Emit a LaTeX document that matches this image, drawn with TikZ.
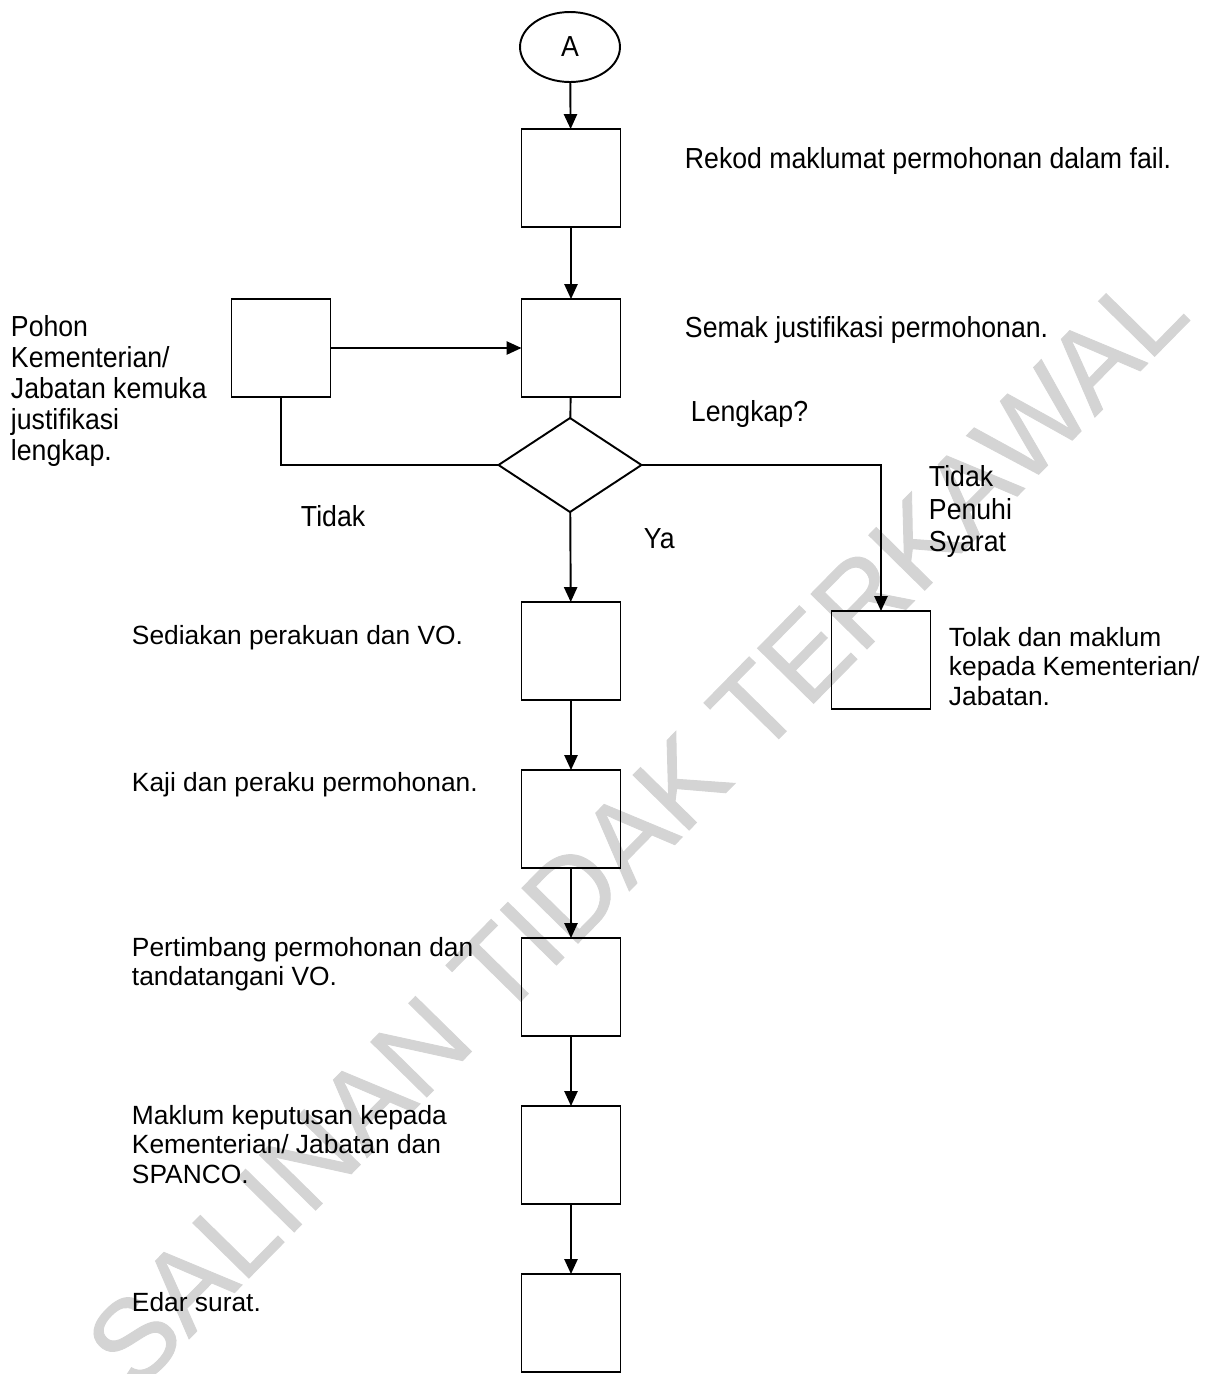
\documentclass[tikz,border=0pt]{standalone}
\usepackage{fontspec}
\setmainfont{Liberation Sans}
\newfontfamily\narrowf[FakeStretch=0.92]{Liberation Sans}
\newfontfamily\wmfont[FakeBold=0.8]{Liberation Sans}
\usetikzlibrary{shapes.geometric,arrows.meta}
\definecolor{wmgray}{RGB}{212,212,212}
\begin{document}
\begin{tikzpicture}[x=0.02cm,y=-0.02cm, line width=1.1pt,
  box/.style={draw, rectangle, minimum width=1.98cm, minimum height=1.96cm, inner sep=0pt, outer sep=0pt},
  flow/.style={-{Triangle[length=8.5pt,width=7.5pt]}},
  txt/.style={anchor=north west, inner sep=0pt, align=left, font=\fontsize{15}{17}\selectfont},
  ntxt/.style={anchor=north west, inner sep=0pt, align=left, font=\narrowf\fontsize{16.5}{18}\selectfont}]
\useasboundingbox (0,0) rectangle (1209,1374);
% watermark
\node[rotate=45.5, text=wmgray, font=\wmfont\fontsize{65}{65}\selectfont, inner sep=0pt] (wm) at (636,828) {SALINAN TIDAK TERKAWAL};
% shapes
\node[draw, ellipse, minimum width=2cm, minimum height=1.4cm, inner sep=0pt, outer sep=0pt, font=\narrowf\fontsize{16.5}{18}\selectfont] (A) at (570,47) {A};
\node[box] (b1) at (571,178) {};
\node[box] (b2) at (571,348) {};
\node[box] (bl) at (281,348) {};
\node[draw, diamond, minimum width=2.86cm, minimum height=1.88cm, inner sep=0pt, outer sep=0pt] (d) at (570,465) {};
\node[box] (b3) at (571,651) {};
\node[box] (b4) at (571,819) {};
\node[box] (b5) at (571,987) {};
\node[box] (b6) at (571,1155) {};
\node[box] (b7) at (571,1323) {};
\node[box] (br) at (881,660) {};
% connectors
\draw[flow] (A) -- (b1);
\draw[flow] (b1) -- (b2);
\draw[flow] (bl) -- (b2);
\draw (b2) -- (d);
\draw (d.west) -| (bl.south);
\draw[flow] (d.east) -| (br.north);
\draw[flow] (d) -- (b3);
\draw[flow] (b3) -- (b4);
\draw[flow] (b4) -- (b5);
\draw[flow] (b5) -- (b6);
\draw[flow] (b6) -- (b7);
% texts
\node[ntxt] (t1) at (684,147) {Rekod maklumat permohonan dalam fail.};
\node[ntxt] (t2) at (684,316) {Semak justifikasi permohonan.};
\node[ntxt, font=\narrowf\fontsize{16.5}{17.6}\selectfont] (tl) at (10,315) {Pohon\\Kementerian/\\Jabatan kemuka\\justifikasi\\lengkap.};
\node[ntxt] (tq) at (690,400) {Lengkap?};
\node[ntxt] (tno) at (300,505) {Tidak};
\node[ntxt] (tya) at (643,528) {Ya};
\node[ntxt, font=\narrowf\fontsize{16.5}{18.4}\selectfont] (tnp) at (928,465) {Tidak\\Penuhi\\Syarat};
\node[txt] (tr) at (948,626) {Tolak dan maklum\\kepada Kementerian/\\Jabatan.};
\node[txt] (t3) at (131,624) {Sediakan perakuan dan VO.};
\node[txt] (t4) at (131,771) {Kaji dan peraku permohonan.};
\node[txt] (t5) at (131,936) {Pertimbang permohonan dan\\tandatangani VO.};
\node[txt] (t6) at (131,1104) {Maklum keputusan kepada\\Kementerian/ Jabatan dan\\SPANCO.};
\node[txt] (t7) at (131,1291) {Edar surat.};
\end{tikzpicture}
\end{document}
